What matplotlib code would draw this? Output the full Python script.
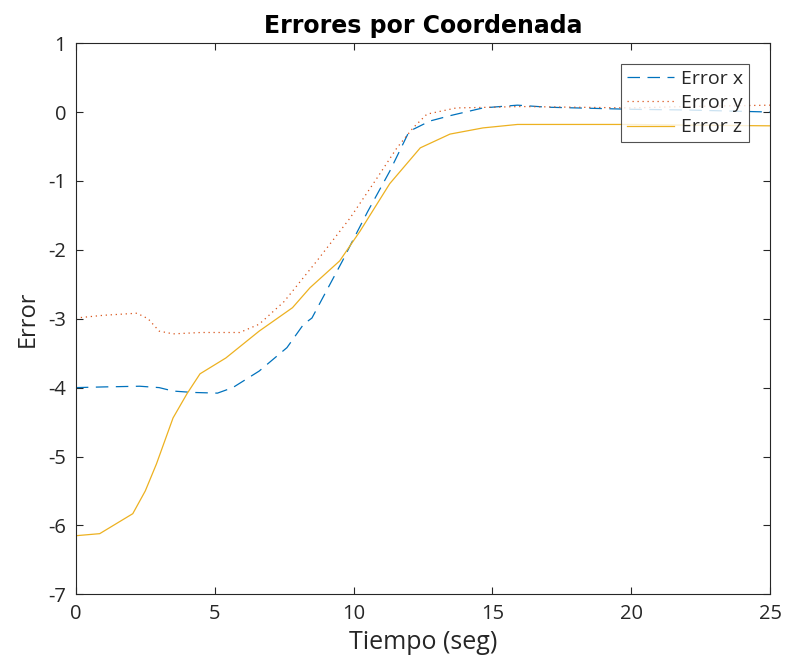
import numpy as np
import matplotlib
matplotlib.use("Agg")
import matplotlib.pyplot as plt

# Valores (tiempo en segundos)
t_x = [0, 1, 2.3, 3.0, 3.5, 4.2, 5.1, 5.65, 6.6, 7.6, 8.2, 8.5, 9.6, 9.9, 10.5, 11.3, 12.0, 12.75, 13.5, 14.66, 15.9, 17, 18, 20, 22, 25]
err_x = [-4.0, -3.99, -3.98, -4.0, -4.05, -4.07, -4.08, -4.0, -3.76, -3.42, -3.08, -2.99, -2.16, -1.92, -1.45, -0.86, -0.28, -0.13, -0.05, 0.06, 0.1, 0.07, 0.06, 0.04, 0.03, 0.0]

t_y = [0, 1, 2.2, 2.6, 3.0, 3.5, 4.5, 5.9, 6.6, 7.5, 8.68, 9.87, 10.84, 11.56, 12.14, 12.64, 13.7, 15, 16, 18, 20, 22, 25]
err_y = [-2.99, -2.95, -2.92, -3.0, -3.18, -3.22, -3.2, -3.2, -3.08, -2.75, -2.16, -1.54, -0.96, -0.52, -0.23, -0.03, 0.06, 0.07, 0.08, 0.07, 0.06, 0.08, 0.1]

t_z = [0, 0.86, 2.05, 2.5, 2.9, 3.5, 4.0, 4.47, 5.4, 6.6, 7.8, 8.43, 9.5, 10.23, 11.3, 12.4, 13.47, 14.66, 15.9, 18, 20, 22, 25]
err_z = [-6.15, -6.12, -5.83, -5.5, -5.11, -4.44, -4.09, -3.8, -3.57, -3.18, -2.84, -2.55, -2.16, -1.73, -1.04, -0.52, -0.32, -0.23, -0.18, -0.18, -0.18, -0.19, -0.2]

gris = "#262626"
plt.rcParams['font.family'] = ['Open Sans', 'DejaVu Sans']
plt.rcParams['axes.unicode_minus'] = False

fig = plt.figure(figsize=(7.9, 6.64), dpi=100)
ax = fig.add_axes([0.096, 0.105, 0.879, 0.83])

ax.plot(t_x, err_x, color="#0072BD", linestyle=(0, (10, 6)), linewidth=0.9, label="Error x")
ax.plot(t_y, err_y, color="#D95319", linestyle=(0, (1, 3)), linewidth=0.9, label="Error y")
ax.plot(t_z, err_z, color="#EDB120", linestyle="-", linewidth=0.9, label="Error z")

ax.set_xlim(0, 25)
ax.set_ylim(-7, 1)
ax.set_xticks(np.arange(0, 26, 5))
ax.set_yticks(np.arange(-7, 2, 1))
ax.tick_params(direction="in", top=True, right=True, labelsize=14.5, colors=gris, length=5, pad=7)
for s in ax.spines.values():
    s.set_color(gris)
    s.set_linewidth(0.8)

ax.set_title("Errores por Coordenada", fontsize=17, fontweight="bold", color="black",
             family="DejaVu Sans", pad=7)
ax.set_xlabel("Tiempo (seg)", fontsize=18, color=gris, labelpad=4)
ax.set_ylabel("Error", fontsize=17, color=gris, labelpad=6)

leg = ax.legend(loc="upper right", bbox_to_anchor=(0.97, 0.962), fontsize=14, frameon=True,
                fancybox=False, edgecolor=gris, handlelength=2.4, borderpad=0.3,
                labelspacing=0.32, handletextpad=0.4, borderaxespad=0, handleheight=0.7)
leg.get_frame().set_linewidth(0.8)
for txt in leg.get_texts():
    txt.set_color(gris)

fig.savefig("out.png", dpi=100)
